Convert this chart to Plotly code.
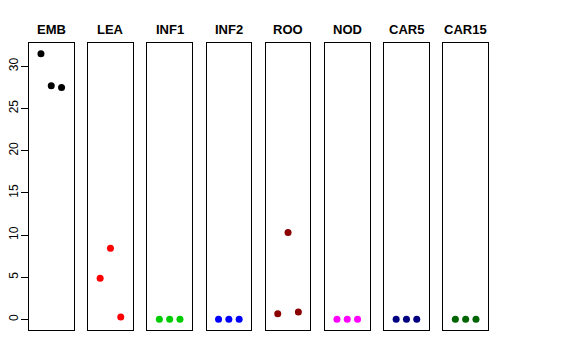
import plotly.graph_objects as go

categories = ["EMB", "LEA", "INF1", "INF2", "ROO", "NOD", "CAR5", "CAR15"]
colors = ["#000000", "#FF0000", "#00CD00", "#0000FF", "#8B0000", "#FF00FF", "#000080", "#006400"]
positions = [1, 2, 3]
EMB = [31.5, 27.7, 27.5]
LEA = [4.9, 8.45, 0.3]
INF1 = [0.02, 0.02, 0.02]
INF2 = [0.02, 0.02, 0.02]
ROO = [0.7, 10.3, 0.9]
NOD = [0.02, 0.02, 0.02]
CAR5 = [0.02, 0.02, 0.02]
CAR15 = [0.03, 0.03, 0.03]
series = [EMB, LEA, INF1, INF2, ROO, NOD, CAR5, CAR15]
yticks = [0, 5, 10, 15, 20, 25, 30]

W, H = 576, 360
OFF = 8  # page body margin offset
allv = [v for s in series for v in s]
lo, hi = min(allv), max(allv)
pad = (hi - lo) * 0.04
yr = [lo - pad, hi + pad]

fig = go.Figure()
left0, pw, step = 29 - OFF, 44.5, 59.2
ydom = [(H - (330 - OFF)) / H, (H - (43 - OFF)) / H]
for i, (cat, col, vals) in enumerate(zip(categories, colors, series)):
    n = "" if i == 0 else str(i + 1)
    x0 = left0 + i * step
    x1 = x0 + pw
    fig.add_trace(go.Scatter(x=positions, y=vals, mode="markers",
                             marker=dict(color=col, size=7),
                             xaxis="x" + n, yaxis="y" + n, showlegend=False,
                             hoverinfo="skip"))
    fig.update_layout(**{
        "xaxis" + n: dict(domain=[x0 / W, x1 / W], range=[-0.16, 4.16],
                          showline=True, mirror=True, linecolor="black", linewidth=1,
                          showgrid=False, zeroline=False, showticklabels=False,
                          ticks="", anchor="y" + n, fixedrange=True, automargin=False),
        "yaxis" + n: dict(domain=ydom, range=yr,
                          showline=True, mirror=True, linecolor="black", linewidth=1,
                          showgrid=False, zeroline=False,
                          showticklabels=(i == 0), ticks="outside" if i == 0 else "",
                          tickvals=yticks, ticklen=7, tickcolor="black",
                          tickangle=-90, ticklabelstandoff=-2,
                          tickfont=dict(size=12, color="black", family="Liberation Sans, Arial"),
                          anchor="x" + n, fixedrange=True, automargin=False),
    })
    fig.add_annotation(text="<b>" + cat + "</b>", x=(x0 + x1) / 2 / W, y=(H - (29 - OFF)) / H,
                       xref="paper", yref="paper", showarrow=False,
                       xanchor="center", yanchor="middle",
                       font=dict(size=13, color="black", family="Liberation Sans, Arial"))

fig.update_layout(width=W, height=H, margin=dict(l=0, r=0, t=0, b=0),
                  paper_bgcolor="white", plot_bgcolor="white")
fig.write_html("out.html")
